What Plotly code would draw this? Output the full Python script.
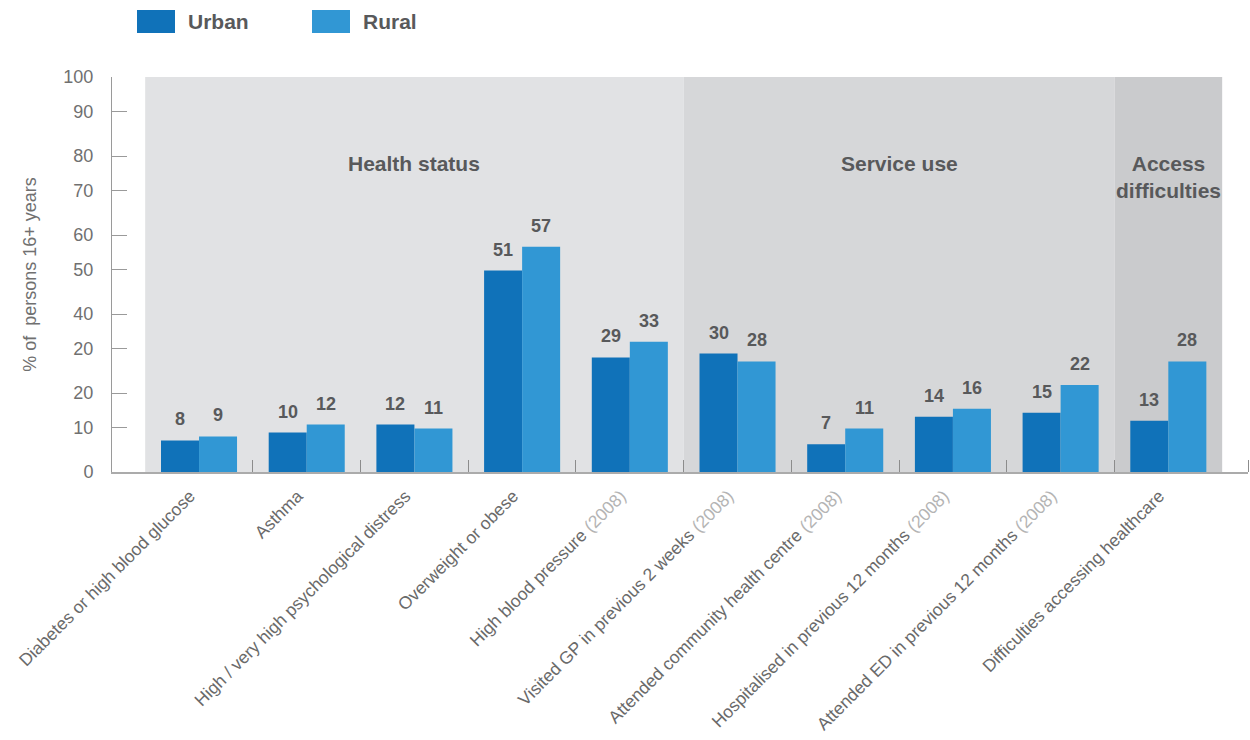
import plotly.graph_objects as go

# ---- data -------------------------------------------------------------
categories = [
    "Diabetes or high blood glucose",
    "Asthma",
    "High / very high psychological distress",
    "Overweight or obese",
    "High blood pressure (2008)",
    "Visited GP in previous 2 weeks (2008)",
    "Attended community health centre (2008)",
    "Hospitalised in previous 12 months (2008)",
    "Attended ED in previous 12 months (2008)",
    "Difficulties accessing healthcare",
]
urban = [8, 10, 12, 51, 29, 30, 7, 14, 15, 13]
rural = [9, 12, 11, 57, 33, 28, 11, 16, 22, 28]

y_tick_vals = [0, 11.2, 20, 31.2, 40, 51.2, 60, 71.2, 80, 91.2, 100]
y_tick_text = ["0", "10", "20", "20", "40", "50", "60", "70", "80", "90", "100"]

section_names = ["Health status", "Service use", "Access<br>difficulties"]
section_first = [0, 5, 9]   # index of first category in each section
section_last = [4, 8, 9]    # index of last category in each section

# ---- styles -----------------------------------------------------------
FONT = "Liberation Sans, Arial, Helvetica, sans-serif"
URBAN_COL = "#1072b9"
RURAL_COL = "#3197d4"
SECTION_FILLS = ["#e1e2e4", "#d6d7d9", "#cacbcd"]
DARK_TXT = "#58595b"
LIGHT_TXT = "#707070"
YEAR_TXT = "#b4b4b4"

W, H = 1250, 740
M_L, M_R, M_T, M_B = 112, 2, 77, 268
PLOT_W = W - M_L - M_R
PLOT_H = H - M_T - M_B


def px_x(px):
    return (px - M_L) / PLOT_W


def px_y(py):
    return (H - M_B - py) / PLOT_H


def fmt_label(s):
    tag = "(2008)"
    if s.endswith(tag):
        return s[: -len(tag)] + f'<span style="color:{YEAR_TXT}">{tag}</span>'
    return s


x_idx = list(range(len(categories)))

fig = go.Figure()
fig.add_trace(go.Bar(x=x_idx, y=urban, name="Urban", marker_color=URBAN_COL,
                     marker_line_width=0, showlegend=False))
fig.add_trace(go.Bar(x=x_idx, y=rural, name="Rural", marker_color=RURAL_COL,
                     marker_line_width=0, showlegend=False))

# section background panels and headings
shapes = []
annotations = []
for name, a, b, fill in zip(section_names, section_first, section_last, SECTION_FILLS):
    shapes.append(dict(type="rect", xref="x", yref="y", x0=a - 0.5, x1=b + 0.5,
                       y0=0, y1=100, fillcolor=fill, line_width=0, layer="below"))
    annotations.append(dict(x=(a + b) / 2, y=px_y(150), xref="x", yref="paper",
                            text=f"<b>{name}</b>", showarrow=False, yanchor="top",
                            font=dict(family=FONT, size=21, color=DARK_TXT)))

# value labels above each bar
for i, (u, r) in enumerate(zip(urban, rural)):
    for v, dx in ((u, -19), (r, 19)):
        annotations.append(dict(x=i, y=v, xref="x", yref="y", text=f"<b>{v}</b>",
                                showarrow=False, xshift=dx, yshift=21,
                                yanchor="middle",
                                font=dict(family=FONT, size=18, color=DARK_TXT)))

# legend swatches and labels
for label, col, x0, tx in (("Urban", URBAN_COL, 137, 186), ("Rural", RURAL_COL, 312, 361)):
    shapes.append(dict(type="rect", xref="paper", yref="paper",
                       x0=px_x(x0), x1=px_x(x0 + 38), y0=px_y(33), y1=px_y(10),
                       fillcolor=col, line_width=0))
    annotations.append(dict(x=px_x(tx), y=px_y(21.5), xref="paper", yref="paper",
                            text=f"<b>{label}</b>", showarrow=False,
                            xanchor="left", yanchor="middle",
                            font=dict(family=FONT, size=21, color=DARK_TXT)))

x_lo = -0.808
x_hi = x_lo + PLOT_W / 107.7
sep_ticks = [i + 0.5 for i in range(len(categories) - 1)] + [x_hi]

fig.update_layout(
    width=W, height=H,
    margin=dict(l=M_L, r=M_R, t=M_T, b=M_B, autoexpand=False),
    paper_bgcolor="white", plot_bgcolor="white",
    barmode="group", bargap=0.294, bargroupgap=0,
    shapes=shapes, annotations=annotations,
    font=dict(family=FONT, color=LIGHT_TXT),
    xaxis=dict(
        range=[x_lo, x_hi], tickmode="array", tickvals=x_idx,
        ticktext=[fmt_label(c) for c in categories], tickangle=-45,
        ticks="", showgrid=False, zeroline=False, automargin=False,
        showline=True, linecolor="#ababab", linewidth=2,
        ticklabelshift=-9, ticklabelstandoff=5,
        tickfont=dict(family=FONT, size=17.5, color="#6a6a6a"),
        minor=dict(tickmode="array", tickvals=sep_ticks, ticks="inside",
                   ticklen=12, tickwidth=1, tickcolor="#8c8c8c", showgrid=False),
    ),
    yaxis=dict(
        range=[0, 100], tickmode="array", tickvals=y_tick_vals, ticktext=y_tick_text,
        ticks="inside", ticklen=15, tickwidth=1, tickcolor="#9a9a9a",
        showgrid=False, zeroline=False, showline=True, linecolor="#9a9a9a",
        linewidth=1, ticklabelstandoff=14, automargin=False,
        tickfont=dict(family=FONT, size=18, color=LIGHT_TXT),
        title=dict(text="% of  persons 16+ years", standoff=22,
                   font=dict(family=FONT, size=18, color=LIGHT_TXT)),
    ),
)

fig.write_html("out.html")
